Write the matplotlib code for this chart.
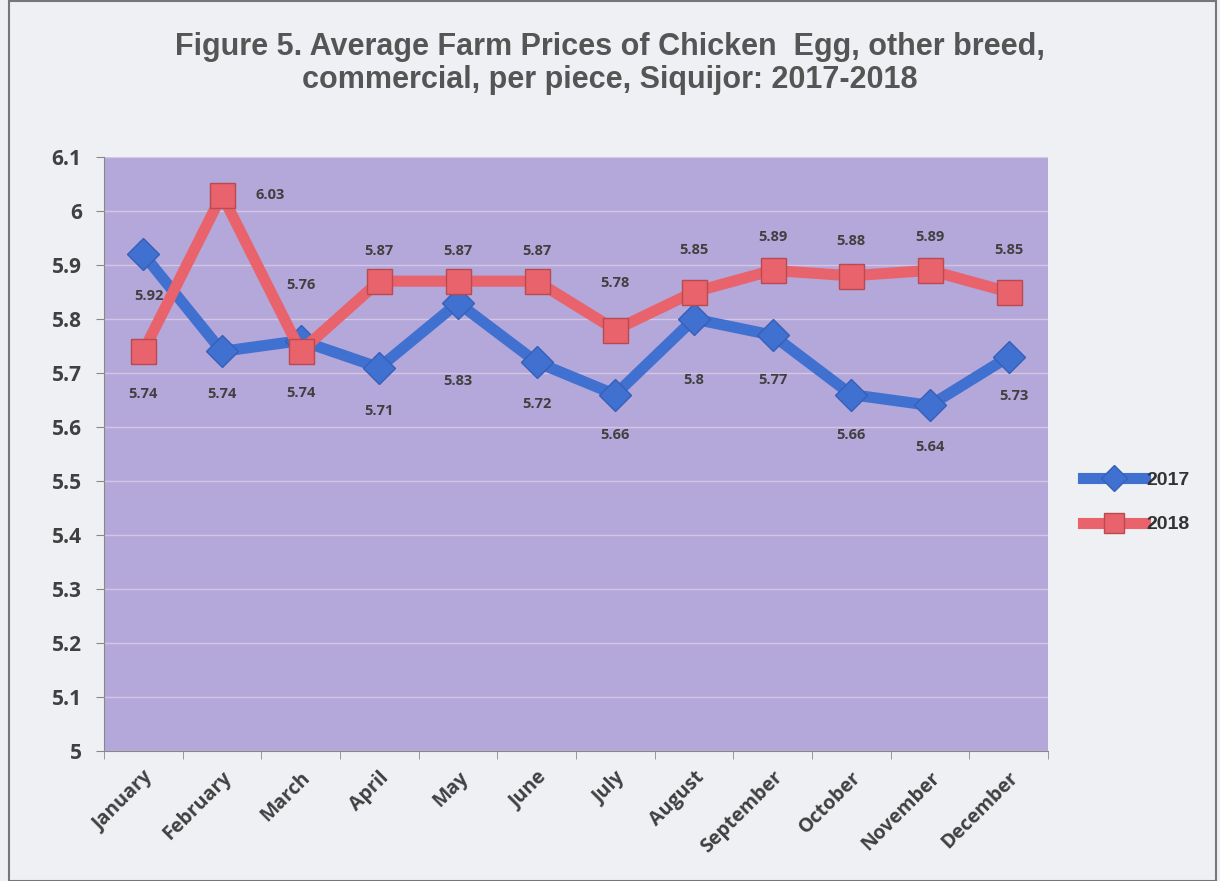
import numpy as np
import matplotlib.pyplot as plt
from matplotlib.patches import Rectangle

months = ['January', 'February', 'March', 'April', 'May', 'June', 'July',
          'August', 'September', 'October', 'November', 'December']
prices_2017 = [5.92, 5.74, 5.76, 5.71, 5.83, 5.72, 5.66, 5.80, 5.77, 5.66, 5.64, 5.73]
prices_2018 = [5.74, 6.03, 5.74, 5.87, 5.87, 5.87, 5.78, 5.85, 5.89, 5.88, 5.89, 5.85]
labels_2017 = ['5.92', '5.74', '5.76', '5.71', '5.83', '5.72', '5.66', '5.8', '5.77', '5.66', '5.64', '5.73']
labels_2018 = ['5.74', '6.03', '5.74', '5.87', '5.87', '5.87', '5.78', '5.85', '5.89', '5.88', '5.89', '5.85']

# label offsets in points (dx, dy)
off_2017 = [(4, -30), (0, -31), (0, 40), (0, -31), (0, -56), (0, -30), (0, -29),
            (0, -44), (0, -32), (0, -29), (0, -30), (4, -28)]
off_2018 = [(0, -31), (35, 0), (0, -30), (0, 22), (0, 22), (0, 22), (0, 34),
            (0, 30), (0, 24), (0, 25), (0, 24), (0, 30)]

blue = '#4070d0'
red = '#e8636c'
txt = '#404040'

fig = plt.figure(figsize=(12.2, 8.81), dpi=100, facecolor='#eff0f4')
ax = fig.add_axes([0.0852, 0.1476, 0.7738, 0.6742])
ax.set_facecolor('#b4a7da')

x = np.arange(len(months))
ax.plot(x, prices_2017, color=blue, lw=8, marker='D', ms=16, mfc=blue, mec='#3560b8',
        label='2017', zorder=3)
ax.plot(x, prices_2018, color=red, lw=8, marker='s', ms=18, mfc=red, mec='#b84a50',
        label='2018', zorder=3)

for xi, v, s, (dx, dy) in zip(x, prices_2017, labels_2017, off_2017):
    ax.annotate(s, (xi, v), xytext=(dx, dy), textcoords='offset points',
                ha='center', va='center', fontsize=10.5, fontweight='bold', color=txt,
                family='Open Sans')
for xi, v, s, (dx, dy) in zip(x, prices_2018, labels_2018, off_2018):
    ax.annotate(s, (xi, v), xytext=(dx, dy), textcoords='offset points',
                ha='center', va='center', fontsize=10.5, fontweight='bold', color=txt,
                family='Open Sans')

ax.set_xlim(-0.5, 11.5)
ax.set_ylim(5, 6.1)
ax.set_yticks(np.arange(5, 6.11, 0.1))
ax.set_yticklabels(['5', '5.1', '5.2', '5.3', '5.4', '5.5', '5.6', '5.7', '5.8', '5.9', '6', '6.1'])
ax.set_xticks(x)
ax.set_xticklabels(months, rotation=45, ha='right', rotation_mode='anchor')
ax.set_xticks(np.arange(-0.5, 12, 1), minor=True)
ax.tick_params(axis='x', which='major', length=0, pad=12)
ax.tick_params(axis='x', which='minor', length=6, color='#888888')
ax.tick_params(axis='y', length=6, color='#888888', pad=10)
for lab in ax.get_xticklabels():
    lab.set_fontsize(14)
for lab in ax.get_yticklabels():
    lab.set_fontsize(15)
for lab in ax.get_xticklabels() + ax.get_yticklabels():
    lab.set_fontfamily('Open Sans')
    lab.set_fontweight('bold')
    lab.set_color(txt)

ax.grid(axis='y', color='#ddcfe6', lw=1, alpha=0.8)
ax.set_axisbelow(True)
for side in ['top', 'right']:
    ax.spines[side].set_visible(False)
for side in ['left', 'bottom']:
    ax.spines[side].set_color('#888888')

fig.text(0.5, 0.928, 'Figure 5. Average Farm Prices of Chicken  Egg, other breed,\n'
         'commercial, per piece, Siquijor: 2017-2018',
         ha='center', va='center', fontsize=22, fontweight='bold', color='#555555',
         family='Liberation Sans', linespacing=1.1)

leg = fig.legend(loc='center left', bbox_to_anchor=(0.873, 0.43), frameon=False,
                 handlelength=3.2, handletextpad=0.1, labelspacing=1.4,
                 prop={'family': 'Liberation Sans', 'weight': 'bold', 'size': 14},
                 markerscale=0.8)
for t in leg.get_texts():
    t.set_color('#333333')

fig.patches.append(Rectangle((0.007, 0.0), 0.99, 0.999, transform=fig.transFigure,
                             fill=False, edgecolor='#777777', lw=1.5))

fig.savefig('out.png', dpi=100, facecolor=fig.get_facecolor())
